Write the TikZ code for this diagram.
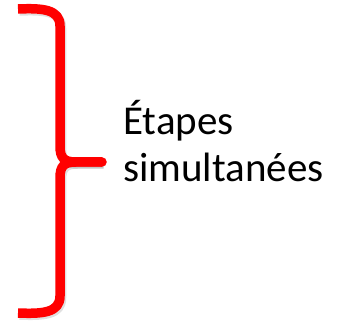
\documentclass[tikz,border=0pt]{standalone}
\usepackage{fontspec}
\newfontfamily\carlito{Carlito}
\usetikzlibrary{positioning}
\tikzset{accolade/.style={line width=9.5pt,draw=red,line cap=butt,line join=round},
  ombre/.style={accolade,draw=black,opacity=0.12,shift={(1.5,2)}}}
\newcommand{\hautaccolade}{(18,9) .. controls (42,8) and (60,9) .. (60,26) -- (60,146) .. controls (60,158) and (64,162) .. (76,162) -- (102,162)}
\newcommand{\basaccolade}{(18,313) .. controls (42,314) and (60,313) .. (60,296) -- (60,178) .. controls (60,166) and (64,162) .. (76,162) -- (102,162)}

\begin{document}
\begin{tikzpicture}[x=1pt,y=-1pt]

  \useasboundingbox (0,0) rectangle (343,323);

  % ombre
  \draw [ombre] \hautaccolade;
  \draw [ombre] \basaccolade;

  % accolade
  \draw [accolade] \hautaccolade;
  \draw [accolade] \basaccolade;
  \fill [red] (102,162) circle (4.75);

  \coordinate (pointe) at (102,162);

  \node (etapes) [anchor=base west, align=left, inner sep=0pt,
    font=\carlito\fontsize{41}{47}\selectfont] at (123,182)
    {Étapes\\simultanées};

\end{tikzpicture}
\end{document}
